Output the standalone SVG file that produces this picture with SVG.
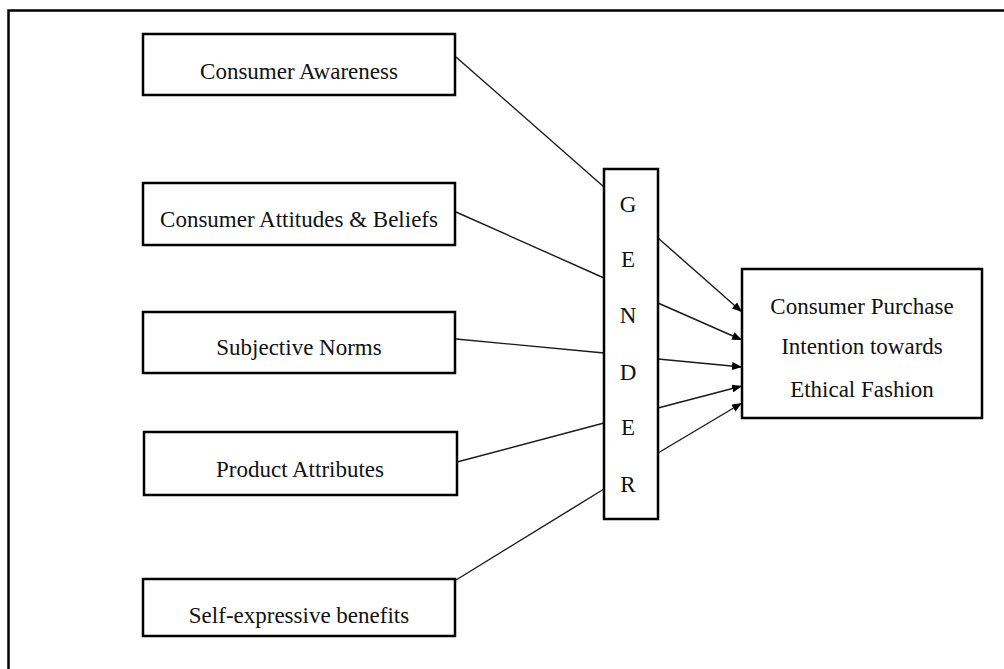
<svg xmlns="http://www.w3.org/2000/svg" width="1004" height="669" viewBox="0 0 1004 669">
<style>
.box{fill:#fff;stroke:#000;stroke-width:2.5}
.t{font-family:"Liberation Serif","Times New Roman",serif;font-size:23px;fill:#111;text-anchor:middle}
.c{stroke:#1a1a1a;stroke-width:1.4;fill:none}
</style>
<defs>
<marker id="ah" viewBox="0 0 10 8" refX="10" refY="4" markerWidth="10" markerHeight="8" markerUnits="userSpaceOnUse" orient="auto">
<path d="M0,0 L10,4 L0,8 Z" fill="#000"/>
</marker>
</defs>
<rect width="1004" height="669" fill="#fff"/>
<path d="M8.5,669 V10.5 H1004" fill="none" stroke="#000" stroke-width="2.5"/>
<g id="connectors">
<line class="c" x1="456" y1="57" x2="604" y2="187"/>
<line class="c" x1="456" y1="212" x2="604" y2="278"/>
<line class="c" x1="456" y1="339" x2="604" y2="353"/>
<line class="c" x1="457" y1="462" x2="604" y2="423"/>
<line class="c" x1="456" y1="580" x2="604" y2="489"/>
<line class="c" x1="658" y1="238" x2="742" y2="312" marker-end="url(#ah)"/>
<line class="c" x1="658" y1="303" x2="742" y2="340" marker-end="url(#ah)"/>
<line class="c" x1="658" y1="359" x2="742" y2="367" marker-end="url(#ah)"/>
<line class="c" x1="658" y1="408" x2="742" y2="386" marker-end="url(#ah)"/>
<line class="c" x1="658" y1="453" x2="742" y2="403" marker-end="url(#ah)"/>
</g>
<g id="n1"><rect class="box" x="143" y="34" width="312" height="61"/><text class="t" x="299" y="79">Consumer Awareness</text></g>
<g id="n2"><rect class="box" x="143" y="183" width="312" height="62"/><text class="t" x="299" y="227">Consumer Attitudes &amp; Beliefs</text></g>
<g id="n3"><rect class="box" x="143" y="312" width="312" height="61"/><text class="t" x="299" y="355">Subjective Norms</text></g>
<g id="n4"><rect class="box" x="144" y="432" width="313" height="63"/><text class="t" x="300" y="477">Product Attributes</text></g>
<g id="n5"><rect class="box" x="143" y="579" width="312" height="57"/><text class="t" x="299" y="623">Self-expressive benefits</text></g>
<g id="gender"><rect class="box" x="604" y="169" width="54" height="350"/>
<text class="t" x="628" y="212">G</text>
<text class="t" x="628" y="267">E</text>
<text class="t" x="628" y="323">N</text>
<text class="t" x="628" y="380">D</text>
<text class="t" x="628" y="435">E</text>
<text class="t" x="628" y="492">R</text>
</g>
<g id="outcome"><rect class="box" x="742" y="269" width="240" height="149"/>
<text class="t" x="862" y="314">Consumer Purchase</text>
<text class="t" x="862" y="354">Intention towards</text>
<text class="t" x="862" y="397">Ethical Fashion</text>
</g>
</svg>
